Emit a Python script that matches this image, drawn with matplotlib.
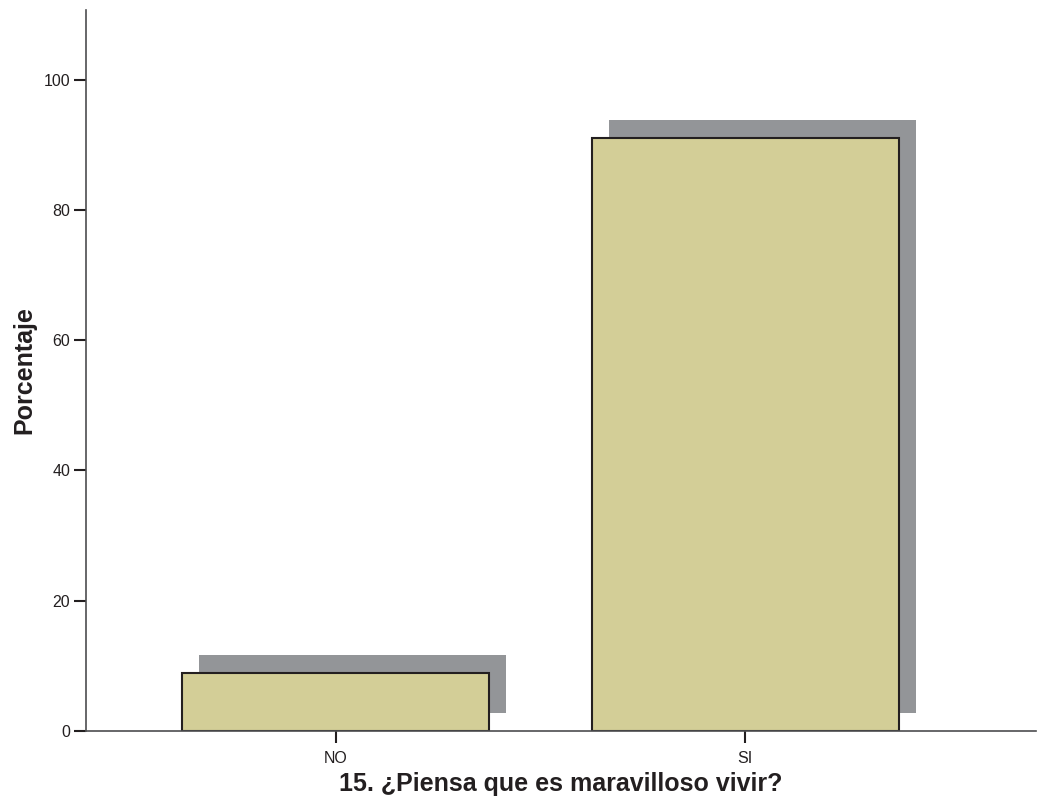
import os
import matplotlib
matplotlib.use("Agg")
import matplotlib.pyplot as plt
from matplotlib import font_manager as fm
from matplotlib.transforms import offset_copy

# Use the regular-width Liberation Sans faces (skip the Narrow variants)
fm.fontManager.ttflist = [f for f in fm.fontManager.ttflist
                          if "narrow" not in os.path.basename(f.fname).lower()]
if hasattr(fm.fontManager, "_findfont_cached"):
    fm.fontManager._findfont_cached.cache_clear()
plt.rcParams['font.family'] = ['Liberation Sans', 'DejaVu Sans']

categories = ["NO", "SI"]
percentages = [8.9, 91.1]
y_ticks = [0, 20, 40, 60, 80, 100]

text_color = "#231F20"
bar_color = "#D3CE97"
shadow_color = "#939598"
axis_color = "#4D4D4F"

W, H = 1037, 805
fig = plt.figure(figsize=(W / 100, H / 100), dpi=100)
ax = fig.add_axes([86 / W, (H - 731) / H, (1036 - 86) / W, (731 - 10) / H])

x = list(range(len(categories)))
bar_width = 0.75

# drop shadow: same bars shifted right and up by a few pixels
shadow_tr = offset_copy(ax.transData, fig=fig, x=17, y=18, units='dots')
ax.bar(x, percentages, width=bar_width, color=shadow_color, edgecolor='none',
       transform=shadow_tr, zorder=1)
ax.bar(x, percentages, width=bar_width, color=bar_color, edgecolor=text_color,
       linewidth=1.5, zorder=2)

ax.set_xlim(-0.61, 1.71)
ax.set_ylim(0, 110.7)
ax.set_xticks(x)
ax.set_xticklabels(categories)
ax.set_yticks(y_ticks)

for side in ("top", "right"):
    ax.spines[side].set_visible(False)
for side in ("left", "bottom"):
    ax.spines[side].set_color(axis_color)
    ax.spines[side].set_linewidth(1.2)

ax.tick_params(axis='both', direction='out', length=8.5, width=1.5,
               color=text_color, labelcolor=text_color, labelsize=11.5)
ax.tick_params(axis='y', pad=3)
ax.tick_params(axis='x', pad=6)

ax.set_ylabel("Porcentaje", fontsize=18, fontweight='bold', color=text_color,
              labelpad=5)
ax.set_xlabel("15. ¿Piensa que es maravilloso vivir?", fontsize=18,
              fontweight='bold', color=text_color, labelpad=4)

fig.savefig("out.png", dpi=100)
